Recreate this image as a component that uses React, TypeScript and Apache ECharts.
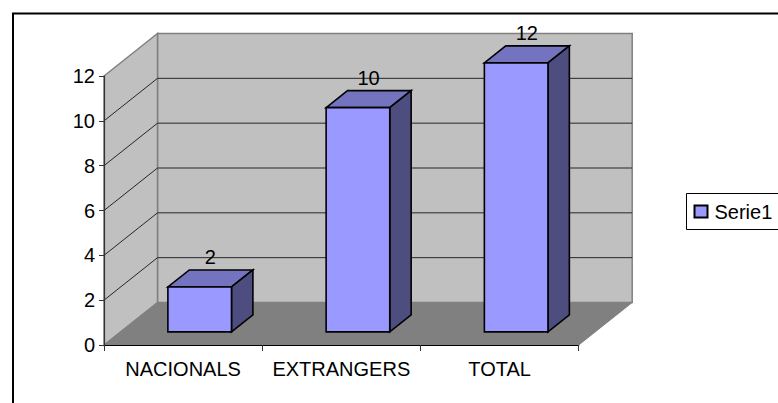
import React, { useEffect, useRef } from "react";
import * as echarts from "echarts";

const categories = ["NACIONALS", "EXTRANGERS", "TOTAL"];
const seriesName = "Serie1";
const seriesValues = [2, 10, 12];
const gridValues = [2, 4, 6, 8, 10, 12];

const FONT = '"Liberation Sans", Arial, sans-serif';
const DX = 53.5;
const DY = -42.5;
const FRONT = 0.31;
const BACK = 0.71;

const renderWalls = (params: any, api: any) => {
  const cs = params.coordSys;
  const l = cs.x, r = cs.x + cs.width, t = cs.y, b = cs.y + cs.height;
  const children: any[] = [
    { type: "polygon", shape: { points: [[l + DX, t + DY], [r + DX, t + DY], [r + DX, b + DY], [l + DX, b + DY]] }, style: { fill: "#C0C0C0", stroke: "#808080", lineWidth: 1.5 } },
    { type: "polygon", shape: { points: [[l, t], [l + DX, t + DY], [l + DX, b + DY], [l, b]] }, style: { fill: "#C0C0C0", stroke: "#808080", lineWidth: 1.5 } },
    { type: "polygon", shape: { points: [[l, b], [l + DX, b + DY], [r + DX, b + DY], [r, b]] }, style: { fill: "#808080", stroke: "#808080", lineWidth: 1 } },
  ];
  gridValues.slice(0, -1).forEach((v) => {
    const y = api.coord([0, v])[1];
    children.push({
      type: "polyline",
      shape: { points: [[l, y], [l + DX, y + DY], [r + DX, y + DY]] },
      style: { fill: null, stroke: "#262626", lineWidth: 1 },
    });
  });
  return { type: "group", children };
};

const renderBar = (_params: any, api: any) => {
  const idx = api.value(0);
  const top = api.coord([idx, api.value(1)]);
  const base = api.coord([idx, 0]);
  const w = api.size([1, 0])[0] * 0.402;
  const fx = base[0] - w / 2 + DX * FRONT;
  const fy = DY * FRONT;
  const ddx = DX * (BACK - FRONT);
  const ddy = DY * (BACK - FRONT);
  const x0 = fx, x1 = fx + w;
  const yB = base[1] + fy, yT = top[1] + fy;
  const stroke = { stroke: "#000", lineWidth: 1.6, lineJoin: "miter" };
  return {
    type: "group",
    children: [
      { type: "polygon", shape: { points: [[x0, yT], [x1, yT], [x1 + ddx, yT + ddy], [x0 + ddx, yT + ddy]] }, style: { fill: "#7373BF", ...stroke } },
      { type: "polygon", shape: { points: [[x1, yT], [x1 + ddx, yT + ddy], [x1 + ddx, yB + ddy], [x1, yB]] }, style: { fill: "#4D4D80", ...stroke } },
      { type: "rect", shape: { x: x0, y: yT, width: w, height: yB - yT }, style: { fill: "#9999FF", ...stroke } },
      {
        type: "text",
        style: {
          x: (x0 + x1) / 2 + ddx / 2,
          y: yT + ddy - 12.5,
          text: String(api.value(1)),
          font: `20px ${FONT}`,
          fill: "#000",
          align: "center",
          verticalAlign: "middle",
        },
      },
    ],
  };
};

export default function App() {
  const ref = useRef<HTMLDivElement>(null);
  useEffect(() => {
    document.body.style.margin = "0";
    document.body.style.overflow = "hidden";
    const chart = echarts.init(ref.current!, null, { renderer: "svg" });
    chart.setOption({
      animation: false,
      backgroundColor: "#fff",
      textStyle: { fontFamily: FONT },
      grid: { left: 104, right: 199.3, top: 76, bottom: 58, containLabel: false },
      xAxis: {
        type: "category",
        data: categories,
        z: 5,
        axisLine: { lineStyle: { color: "#000", width: 1.2 } },
        axisTick: { show: true, length: 6, lineStyle: { color: "#333" } },
        axisLabel: { color: "#000", fontSize: 20, fontFamily: FONT, margin: 14, interval: 0 },
        splitLine: { show: false },
      },
      yAxis: {
        type: "value",
        min: 0,
        max: 12,
        interval: 2,
        z: 5,
        axisLine: { show: true, lineStyle: { color: "#333", width: 1.2 } },
        axisTick: { show: true, length: 5, lineStyle: { color: "#333" } },
        axisLabel: { color: "#000", fontSize: 20, fontFamily: FONT, margin: 9 },
        splitLine: { show: false },
      },
      legend: {
        data: [seriesName],
        left: 686.5,
        top: 193.5,
        orient: "vertical",
        icon: "rect",
        itemWidth: 13,
        itemHeight: 12,
        itemGap: 0,
        padding: [8, 30, 8, 7],
        borderColor: "#000",
        borderWidth: 1,
        textStyle: { color: "#000", fontSize: 20, fontFamily: FONT, padding: [0, 0, 0, 2] },
        selectedMode: false,
      },
      graphic: [
        {
          type: "rect",
          shape: { x: 13, y: 13.5, width: 820, height: 440 },
          style: { fill: "none", stroke: "#000", lineWidth: 2 },
          silent: true,
          z: 100,
        },
      ],
      series: [
        {
          type: "custom",
          name: "walls",
          z: 1,
          silent: true,
          data: [[0, 0]],
          renderItem: renderWalls,
        },
        {
          type: "custom",
          name: seriesName,
          z: 3,
          silent: true,
          itemStyle: { color: "#9999FF", borderColor: "#000", borderWidth: 1.6 },
          data: seriesValues.map((v, i) => [i, v]),
          encode: { x: 0, y: 1 },
          renderItem: renderBar,
        },
      ],
    });
    return () => chart.dispose();
  }, []);
  return <div ref={ref} style={{ width: 778, height: 403 }} />;
}
